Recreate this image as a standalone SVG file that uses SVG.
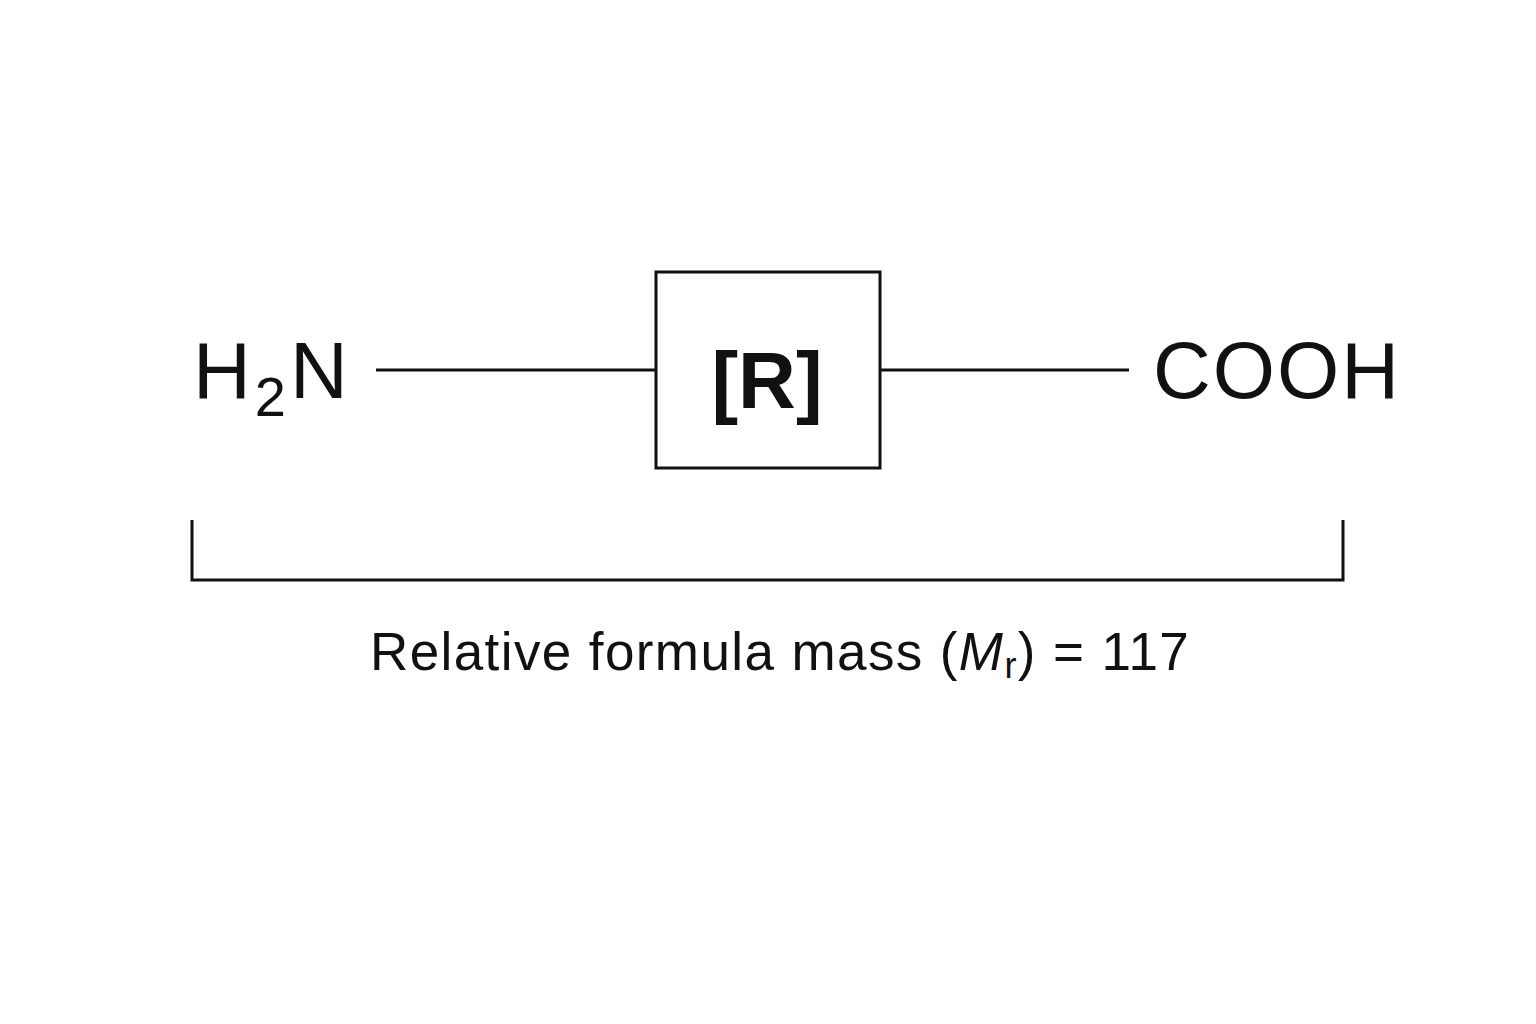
<svg xmlns="http://www.w3.org/2000/svg" width="1536" height="1024" viewBox="0 0 1536 1024">
<style>
.t{font-family:"Liberation Sans",Arial,sans-serif;fill:#111}
.l{stroke:#111;stroke-width:3;fill:none}
</style>
<rect width="1536" height="1024" fill="#fff"/>
<g id="connectors">
<line class="l" x1="376" y1="370" x2="655" y2="370"/>
<line class="l" x1="881" y1="370" x2="1129" y2="370"/>
</g>
<g id="amine"><text class="t" x="193" y="398" font-size="80">H<tspan font-size="56" dx="4" dy="18">2</tspan><tspan dx="4" dy="-18">N</tspan></text></g>
<g id="r-group"><rect class="l" x="656" y="272" width="224" height="196"/>
<text class="t" x="767" y="408" font-size="80" font-weight="bold" text-anchor="middle">[R]</text></g>
<g id="carboxyl"><text class="t" x="1153" y="398" font-size="80" letter-spacing="2">COOH</text></g>
<g id="bracket"><path class="l" d="M192 520V580H1343V520"/></g>
<g id="caption"><text class="t" x="370" y="670" font-size="53" letter-spacing="1.4">Relative formula mass (<tspan font-style="italic">M</tspan><tspan font-size="36" dy="8">r</tspan><tspan dy="-8">) = 117</tspan></text></g>
</svg>
